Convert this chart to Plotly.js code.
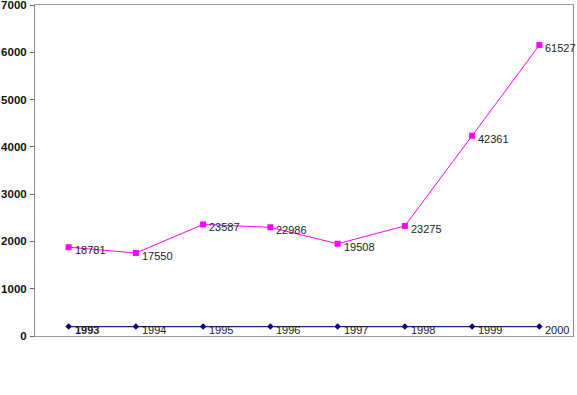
<!DOCTYPE html>
<html>
<head>
<meta charset="utf-8">
<script src="https://cdn.plot.ly/plotly-3.0.1.min.js"></script>
<style>html,body{margin:0;padding:0;background:#fff;}#chart{width:577px;height:395px;}</style>
</head>
<body>
<div id="chart"></div>
<script>
var categories = ["1993","1994","1995","1996","1997","1998","1999","2000"];
var yearSeries = [1993,1994,1995,1996,1997,1998,1999,2000];
var valueSeries = [18781,17550,23587,22986,19508,23275,42361,61527];
var yTickVals = [0,10000,20000,30000,40000,50000,60000,70000];
var yTickText = ["0","1000","2000","3000","4000","5000","6000","7000"];

var traces = [
  {x: categories, y: yearSeries, type: 'scatter', mode: 'lines+markers',
   line: {color: '#1f1f8a', width: 1.3},
   marker: {symbol: 'diamond', size: 5, color: '#000080'}, cliponaxis: false},
  {x: categories, y: valueSeries, type: 'scatter', mode: 'lines+markers',
   line: {color: '#ff00ff', width: 1},
   marker: {symbol: 'square', size: 6, color: '#ff00ff'}, cliponaxis: false}
];

var annotations = [];
function addLabels(vals, firstBold) {
  for (var i = 0; i < categories.length; i++) {
    annotations.push({
      x: i, y: vals[i], xref: 'x', yref: 'y',
      text: (firstBold && i === 0) ? '<b>' + vals[i] + '</b>' : String(vals[i]),
      showarrow: false, xanchor: 'left', yanchor: 'middle',
      xshift: 4, yshift: -3,
      font: {family: 'Liberation Sans, Arial, sans-serif', size: 11, color: '#222'}
    });
  }
}
addLabels(valueSeries, false);
addLabels(yearSeries, true);

var layout = {
  width: 577, height: 395,
  margin: {l: 35, r: 4, t: 5, b: 59},
  paper_bgcolor: '#fff', plot_bgcolor: '#fff',
  showlegend: false,
  xaxis: {type: 'category', range: [-0.5, 7.5], showticklabels: false,
          ticks: '', showgrid: false, zeroline: false,
          showline: true, mirror: true, linecolor: '#999', linewidth: 1},
  yaxis: {range: [0, 70000.01], tickvals: yTickVals, ticktext: yTickText,
          ticks: 'outside', ticklen: 4, tickcolor: '#666', showgrid: false,
          ticklabeloverflow: 'allow', ticklabelstandoff: 1,
          zeroline: false, showline: true, mirror: true, linecolor: '#888', linewidth: 1,
          tickfont: {family: 'Liberation Sans, Arial, sans-serif', size: 11.5, color: '#111', weight: 'bold'}},
  annotations: annotations
};

Plotly.newPlot('chart', traces, layout, {displayModeBar: false, staticPlot: true});
</script>
</body>
</html>
